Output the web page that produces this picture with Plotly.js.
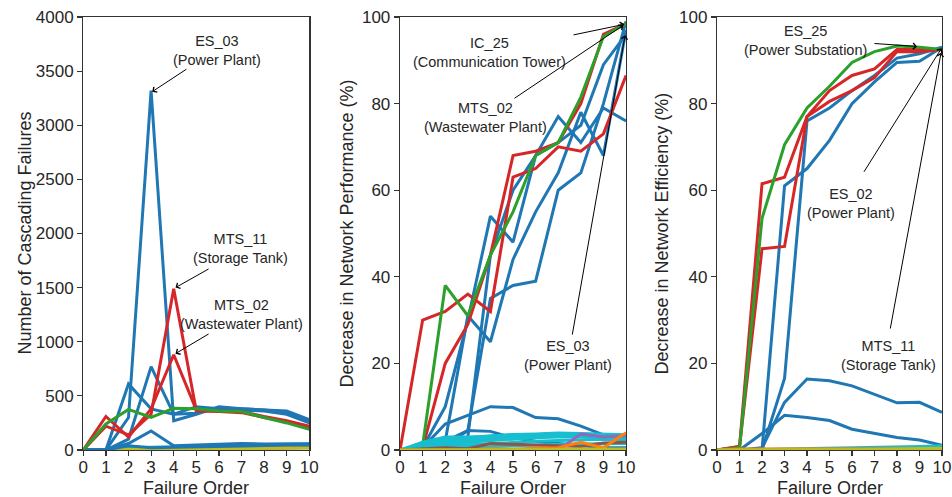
<!DOCTYPE html>
<html>
<head>
<meta charset="utf-8">
<script src="https://cdn.plot.ly/plotly-3.0.1.min.js"></script>
<style>html,body{margin:0;padding:0;background:#fff;}#chart{width:952px;height:497px;}</style>
</head>
<body>
<div id="chart"></div>
<script>
// ---------- data ----------
const failureOrder = [0, 1, 2, 3, 4, 5, 6, 7, 8, 9, 10];

// Panel 1: Number of cascading failures
const p1Blue1 = [0, 0, 300, 3320, 270, 330, 400, 380, 370, 360, 280];   // ES_03
const p1Blue2 = [0, 0, 610, 380, 330, 340, 390, 370, 360, 330, 250];
const p1Blue3 = [0, 0, 100, 770, 330, 400, 380, 380, 370, 350, 270];
const p1Blue4 = [0, 0, 60, 175, 40, 45, 55, 60, 55, 55, 55];
const p1Blue5 = [0, 0, 40, 20, 25, 30, 35, 40, 40, 45, 45];
const p1Red1 = [0, 220, 140, 330, 1490, 360, 355, 345, 300, 260, 210];   // MTS_11
const p1Red2 = [0, 310, 120, 380, 880, 370, 360, 355, 310, 270, 220];    // MTS_02
const p1Green = [0, 240, 375, 300, 385, 380, 360, 355, 300, 250, 190];
const p1Cyan = [0, 5, 20, 25, 30, 35, 40, 45, 50, 55, 60];
const p1Brown = [0, 0, 3, 5, 10, 12, 15, 20, 25, 30, 35];
const p1Orange = [0, 0, 2, 5, 8, 10, 12, 15, 20, 22, 25];
const p1Purple = [0, 0, 1, 2, 3, 5, 8, 10, 12, 15, 20];
const p1Olive = [0, 0, 5, 8, 10, 12, 14, 15, 16, 17, 18];

// Panel 2: Decrease in network performance (%)
const p2Blue1 = [0, 0.5, 10, 30, 54, 48, 68, 77, 71, 79, 76];
const p2Blue2 = [0, 0.5, 2, 31, 25, 44, 55, 64, 78, 68, 97];
const p2Blue3 = [0, 0.5, 1, 4.5, 35, 38, 39, 60, 64, 80, 99];
const p2Blue4 = [0, 0, 0.5, 3, 45, 60, 68, 71, 75, 89, 96];            // ES_03
const p2Blue5 = [0, 0.5, 6, 8, 10, 9.8, 7.5, 7.2, 5.5, 3.5, 3.2];
const p2Blue6 = [0, 0.5, 2, 4.5, 4.3, 2.8, 2, 1.5, 1, 0.5, 0.5];
const p2Red1 = [0, 30, 32, 36, 32, 63, 65, 70, 69, 73, 86.5];
const p2Red2 = [0, 0.5, 20, 29, 45, 68, 69, 71, 80, 96, 98.5];          // MTS_02
const p2Green = [0, 1, 38, 31, 45, 55, 68, 71, 81.5, 95.5, 98.5];       // IC_25
const p2Cyan1 = [0, 1.5, 2.5, 2.6, 3, 3.3, 3.5, 3.8, 3.7, 3.5, 3.3];
const p2Cyan2 = [0, 1.2, 2, 2.3, 2.6, 3, 3.2, 3.5, 3.4, 3.2, 3.2];
const p2Cyan3 = [0, 0.8, 1.5, 1.8, 2.2, 2.5, 2.8, 3, 3, 2.8, 2.8];
const p2Cyan4 = [0, 0.5, 1, 1.2, 1.5, 1.8, 2, 2.2, 2.4, 2.5, 2.4];
const p2Cyan5 = [0, 0.3, 0.5, 0.6, 0.8, 1, 1.2, 1.3, 1.4, 1.5, 1.5];
const p2Cyan6 = [0, 1.8, 3, 3, 3.2, 3.6, 3.7, 3.9, 3.8, 3.6, 3.5];
const p2Cyan7 = [0, 1, 2.5, 2.8, 3.3, 3.5, 3.6, 3.6, 3.5, 3.3, 3.4];
const p2Brown = [0, 0.2, 0.5, 0.3, 1.5, 1.3, 1.1, 1, 0.8, 1.6, 1.8];
const p2Purple = [0, 0, 0, 0, 0, 0, 0, 0, 3.7, 3, 3.3];
const p2Orange = [0, 0, 0, 0, 0.3, 0.2, 0.4, 0.5, 1.8, 0.5, 4];
const p2Olive = [0, 0, 0, 0, 0.1, 0.1, 0.1, 0.1, 0.2, 0.2, 0.2];

// Panel 3: Decrease in network efficiency (%)
const p3Blue1 = [0, 0, 0, 61, 65, 71.5, 80, 85, 89.5, 89.8, 93];
const p3Blue2 = [0, 0, 0, 16.5, 76, 79, 83, 86.5, 90.5, 91.5, 93];
const p3Blue3 = [0, 0, 0.5, 11, 16.4, 16, 14.8, 12.9, 10.9, 11, 8.7];    // MTS_11
const p3Blue4 = [0, 0, 3.8, 8, 7.5, 6.8, 4.8, 3.8, 2.9, 2.3, 1.1];
const p3Red1 = [0, 0.8, 61.5, 63, 77, 83, 86.5, 88, 92.5, 92.5, 92.5];
const p3Red2 = [0, 0.8, 46.5, 47, 77, 80.5, 83, 86, 92, 92, 92.5];      // ES_02
const p3Green = [0, 0.5, 53.5, 70.5, 79, 84, 89.5, 92, 93.3, 93, 92.5]; // ES_25
const p3Cyan = [0, 0, 0.1, 0.2, 0.3, 0.3, 0.4, 0.5, 0.6, 0.8, 1];
const p3Orange = [0, 0.2, 0.2, 0.2, 0.2, 0.3, 0.3, 0.3, 0.3, 0.3, 0.3];
const p3Olive = [0, 0, 0, 0, 0, 0, 0, 0.1, 0.2, 0.3, 0.4];

const xTickVals = [0, 1, 2, 3, 4, 5, 6, 7, 8, 9, 10];
const y1TickVals = [0, 500, 1000, 1500, 2000, 2500, 3000, 3500, 4000];
const pctTickVals = [0, 20, 40, 60, 80, 100];

// ---------- styles ----------
const C = {blue:'#1f77b4', red:'#d62728', green:'#2ca02c', cyan:'#17becf',
           brown:'#8c564b', purple:'#9467bd', orange:'#ff7f0e', olive:'#bcbd22'};
const FONT = 'Liberation Sans, Arial, Helvetica, sans-serif';
const TXT = '#262626';

function line(y, color, xa, ya) {
  return {x: failureOrder, y: y, type: 'scatter', mode: 'lines', xaxis: xa, yaxis: ya,
          line: {color: color, width: 3}, hoverinfo: 'skip', showlegend: false};
}

const traces = [
  // panel 1
  line(p1Cyan, C.cyan, 'x', 'y'), line(p1Brown, C.brown, 'x', 'y'), line(p1Purple, C.purple, 'x', 'y'),
  line(p1Orange, C.orange, 'x', 'y'), line(p1Olive, C.olive, 'x', 'y'),
  line(p1Blue5, C.blue, 'x', 'y'), line(p1Blue4, C.blue, 'x', 'y'), line(p1Blue3, C.blue, 'x', 'y'),
  line(p1Blue2, C.blue, 'x', 'y'), line(p1Blue1, C.blue, 'x', 'y'),
  line(p1Red2, C.red, 'x', 'y'), line(p1Red1, C.red, 'x', 'y'), line(p1Green, C.green, 'x', 'y'),
  // panel 2
  line(p2Blue1, C.blue, 'x2', 'y2'), line(p2Blue2, C.blue, 'x2', 'y2'), line(p2Blue3, C.blue, 'x2', 'y2'),
  line(p2Blue4, C.blue, 'x2', 'y2'), line(p2Blue5, C.blue, 'x2', 'y2'), line(p2Blue6, C.blue, 'x2', 'y2'),
  line(p2Red1, C.red, 'x2', 'y2'), line(p2Red2, C.red, 'x2', 'y2'), line(p2Green, C.green, 'x2', 'y2'),
  line(p2Cyan5, C.cyan, 'x2', 'y2'), line(p2Cyan4, C.cyan, 'x2', 'y2'), line(p2Cyan3, C.cyan, 'x2', 'y2'),
  line(p2Cyan2, C.cyan, 'x2', 'y2'), line(p2Cyan1, C.cyan, 'x2', 'y2'),
  line(p2Cyan7, C.cyan, 'x2', 'y2'), line(p2Cyan6, C.cyan, 'x2', 'y2'),
  line(p2Brown, C.brown, 'x2', 'y2'), line(p2Purple, C.purple, 'x2', 'y2'),
  line(p2Orange, C.orange, 'x2', 'y2'), line(p2Olive, C.olive, 'x2', 'y2'),
  // panel 3
  line(p3Blue1, C.blue, 'x3', 'y3'), line(p3Blue2, C.blue, 'x3', 'y3'), line(p3Blue3, C.blue, 'x3', 'y3'),
  line(p3Blue4, C.blue, 'x3', 'y3'),
  line(p3Red2, C.red, 'x3', 'y3'), line(p3Red1, C.red, 'x3', 'y3'), line(p3Green, C.green, 'x3', 'y3'),
  line(p3Cyan, C.cyan, 'x3', 'y3'), line(p3Orange, C.orange, 'x3', 'y3'), line(p3Olive, C.olive, 'x3', 'y3')
];

function xAxis(domain, anchor) {
  return {domain: domain, anchor: anchor, range: [0, 10], tickvals: xTickVals, ticks: 'outside',
          ticklen: 5, tickwidth: 1.2, tickcolor: '#333', showline: true, linecolor: '#333', linewidth: 1.3,
          mirror: true, showgrid: false, zeroline: false, ticklabelstandoff: -4,
          tickfont: {family: FONT, size: 17, color: TXT}};
}
function yAxis(range, ticks, anchor) {
  return {domain: [0.0946, 0.9658], anchor: anchor, range: range, tickvals: ticks, ticks: 'outside',
          ticklen: 5, tickwidth: 1.2, tickcolor: '#333', showline: true, linecolor: '#333', linewidth: 1.3,
          mirror: true, showgrid: false, zeroline: false, tickfont: {family: FONT, size: 17, color: TXT}};
}

function label(text, xref, yref, x, y) {
  return {text: text, xref: xref, yref: yref, x: x, y: y, showarrow: false, xanchor: 'center',
          yanchor: 'middle', align: 'center', font: {family: FONT, size: 14.5, color: TXT}};
}
function arrow(xref, yref, x, y, ax, ay, head) {
  return {text: '', xref: xref, yref: yref, x: x, y: y, axref: xref, ayref: yref, ax: ax, ay: ay,
          showarrow: true, arrowhead: head, arrowsize: 1.2, arrowwidth: 1, arrowcolor: '#000', standoff: 0};
}
function title(text, x, y, angle) {
  return {text: text, xref: 'paper', yref: 'paper', x: x, y: y, showarrow: false, xanchor: 'center',
          yanchor: 'middle', textangle: angle, font: {family: FONT, size: 18, color: TXT}};
}

const annotations = [
  // panel 1
  label('ES_03<br>(Power Plant)', 'x', 'y', 5.92, 3690),
  arrow('x', 'y', 3.05, 3310, 4.63, 3527, 4),
  label('MTS_11<br>(Storage Tank)', 'x', 'y', 6.94, 1860),
  arrow('x', 'y', 4.08, 1500, 5.61, 1680, 4),
  label('MTS_02<br>(Wastewater Plant)', 'x', 'y', 6.99, 1256),
  arrow('x', 'y', 4.08, 890, 5.61, 1080, 4),
  // panel 2
  label('IC_25<br>(Communication Tower)', 'x2', 'y2', 3.98, 91.8),
  arrow('x2', 'y2', 9.92, 98.3, 7.61, 95.8, 4),
  label('MTS_02<br>(Wastewater Plant)', 'x2', 'y2', 3.8, 76.8),
  arrow('x2', 'y2', 9.88, 98.1, 5.0, 81, 4),
  label('ES_03<br>(Power Plant)', 'x2', 'y2', 7.43, 21.9),
  arrow('x2', 'y2', 9.96, 95.8, 7.61, 26.3, 4),
  // panel 3
  label('ES_25<br>(Power Substation)', 'x3', 'y3', 3.91, 94.6),
  arrow('x3', 'y3', 8.89, 93.2, 6.93, 93.9, 4),
  label('ES_02<br>(Power Plant)', 'x3', 'y3', 5.96, 57),
  arrow('x3', 'y3', 9.98, 92.8, 6.49, 63.9, 4),
  label('MTS_11<br>(Storage Tank)', 'x3', 'y3', 7.6, 21.9),
  arrow('x3', 'y3', 9.96, 91.8, 7.69, 27.7, 4),
  // axis titles
  title('Number of Cascading Failures', 0.0263, 0.5302, -90),
  title('Decrease in Network Performance (%)', 0.3645, 0.5302, -90),
  title('Decrease in Network Efficiency (%)', 0.6964, 0.5302, -90),
  title('Failure Order', 0.2062, 0.0181, 0),
  title('Failure Order', 0.5389, 0.0181, 0),
  title('Failure Order', 0.8714, 0.0181, 0)
];

const layout = {
  width: 952, height: 497, margin: {l: 0, r: 0, t: 0, b: 0},
  paper_bgcolor: '#fff', plot_bgcolor: '#fff', showlegend: false,
  font: {family: FONT, color: TXT},
  xaxis: xAxis([0.0875, 0.3249], 'y'),
  yaxis: yAxis([0, 4000], y1TickVals, 'x'),
  xaxis2: xAxis([0.4202, 0.6576], 'y2'),
  yaxis2: yAxis([0, 100], pctTickVals, 'x2'),
  xaxis3: xAxis([0.7532, 0.9895], 'y3'),
  yaxis3: yAxis([0, 100], pctTickVals, 'x3'),
  annotations: annotations
};

Plotly.newPlot('chart', traces, layout, {staticPlot: true, displayModeBar: false});
</script>
</body>
</html>
